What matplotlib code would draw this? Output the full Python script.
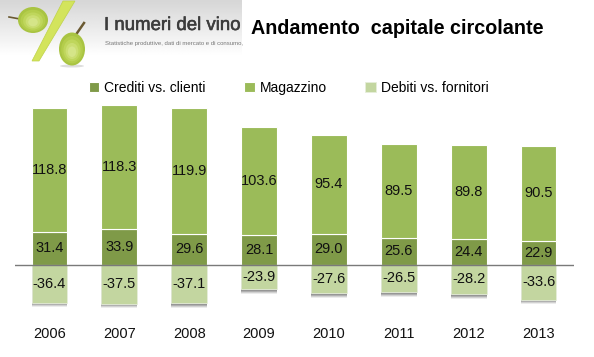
import numpy as np
import matplotlib
matplotlib.use('Agg')
import matplotlib.pyplot as plt
import matplotlib.patheffects as pe
from matplotlib.patches import Ellipse, Polygon

years = ['2006', '2007', '2008', '2009', '2010', '2011', '2012', '2013']
crediti = [31.4, 33.9, 29.6, 28.1, 29.0, 25.6, 24.4, 22.9]
magazzino = [118.8, 118.3, 119.9, 103.6, 95.4, 89.5, 89.8, 90.5]
debiti = [-36.4, -37.5, -37.1, -23.9, -27.6, -26.5, -28.2, -33.6]

W, H = 594, 357
plt.rcParams['font.family'] = ['Liberation Sans', 'DejaVu Sans']

fig = plt.figure(figsize=(W / 100, H / 100), dpi=100)

# grafico
ax = fig.add_axes([14.5 / W, 1 - 320 / H, 559 / W, 230 / H])
x = np.arange(len(years))
w = 0.51
base = np.array(crediti)

# ombra sotto le barre
for off, a in [(4.5, 0.12), (3.5, 0.20), (2.5, 0.30), (1.5, 0.35)]:
    ax.bar(x, np.array(debiti) - off, w, color='#666666', alpha=a, lw=0, zorder=1)

b1 = ax.bar(x, crediti, w, color='#7F9A48', edgecolor='white', lw=0.8, label='Crediti vs. clienti', zorder=2)
b2 = ax.bar(x, magazzino, w, bottom=base, color='#9BBB59', edgecolor='white', lw=0.8, label='Magazzino', zorder=2)
b3 = ax.bar(x, debiti, w, color='#C3D6A0', edgecolor='#E6EEDA', lw=0.6, label='Debiti vs. fornitori', zorder=2)
ax.axhline(0, color='#7a7a7a', lw=1, zorder=3)

for i in x:
    ax.text(i, crediti[i] / 2, f'{crediti[i]:.1f}', ha='center', va='center', fontsize=10.5, color='#111111', zorder=4)
    ax.text(i, crediti[i] + magazzino[i] / 2, f'{magazzino[i]:.1f}', ha='center', va='center', fontsize=10.5, color='#111111', zorder=4)
    ax.text(i, debiti[i] / 2, f'{debiti[i]:.1f}', ha='center', va='center', fontsize=10.5, color='#111111', zorder=4)

ax.set_xlim(-0.5, 7.5)
ax.set_ylim(-53.1, 167)
ax.set_xticks(x)
ax.set_xticklabels(years, fontsize=10.5, color='#111111')
ax.tick_params(axis='x', length=0, pad=5)
ax.set_yticks([])
for s in ax.spines.values():
    s.set_visible(False)
ax.patch.set_alpha(0)

ax.legend(handles=[b1, b2, b3], loc='center', bbox_to_anchor=(274 / 559, 1 + 2 / 230), ncol=3, frameon=False,
          fontsize=10, handlelength=0.75, handleheight=0.75, handletextpad=0.35, columnspacing=2.8)

# testata con il logo, coordinate in pixel
top = fig.add_axes([0, 0, 1, 1], zorder=-1)
grad = np.linspace(0.84, 1, 64).reshape(-1, 1)
top.imshow(grad, cmap='gray', vmin=0, vmax=1, extent=[0, 242, 56, 0], aspect='auto', zorder=0)
top.set_xlim(0, W)
top.set_ylim(H, 0)
top.axis('off')


def grape(cx, cy, gw, gh):
    # acino sfumato: dal bordo scuro al centro chiaro
    cols = ['#A9C442', '#B4CD4C', '#BFD65C', '#CBDE72', '#D5E588']
    for k, c in enumerate(cols):
        f = 1 - k * 0.17
        top.add_patch(Ellipse((cx, cy + (1 - f) * gh * 0.12), gw * f, gh * f, fc=c, lw=0, zorder=3))


top.add_patch(Polygon([[63, 1], [75, 1], [39, 61], [32, 61]], fc='#D3E45C', ec='#BFD24A', lw=0.5, zorder=2))
top.plot([9, 20], [17, 19], color='#6B5A32', lw=1.2, zorder=2)
top.plot([75, 84], [36, 23], color='#6B5A32', lw=1.8, zorder=2)
top.add_patch(Ellipse((72, 66), 24, 3, fc='#dddddd', lw=0, zorder=1))
grape(33, 20, 30, 26)
grape(72, 49, 26, 33)

logo = fig.text(104 / W, 1 - 25.5 / H, 'I numeri del vino', fontsize=13.4, color='#3c3c3c', va='center')
logo.set_path_effects([pe.withStroke(linewidth=0.4, foreground='#3c3c3c')])
fig.text(105 / W, 1 - 44 / H, 'Statistiche produttive, dati di mercato e di consumo,', fontsize=4.3, color='#777777', va='center')
fig.text(251 / W, 1 - 29 / H, 'Andamento  capitale circolante', fontsize=14.2, fontweight='bold', color='black', va='center')

fig.savefig('out.png', dpi=100)
